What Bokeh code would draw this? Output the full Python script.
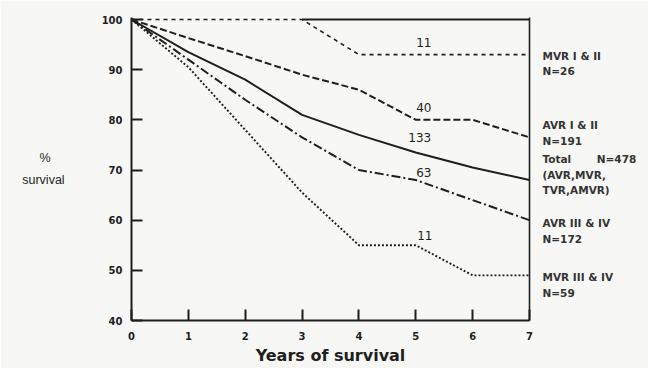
from bokeh.plotting import figure
from bokeh.models import Range1d, FixedTicker, LinearAxis, CustomJSTickFormatter
from bokeh.embed import file_html
from bokeh.resources import INLINE

# ---- data ----
years = [0, 1, 2, 3, 4, 5, 6, 7]
mvr_1_2 = [100, 100, 100, 100, 93, 93, 93, 93]
avr_1_2 = [100, 96.3, 92.7, 89, 86, 80, 80, 76.5]
total = [100, 93.5, 88, 81, 77, 73.5, 70.5, 68]
avr_3_4 = [100, 92, 84, 76.5, 70, 68, 64, 60]
mvr_3_4 = [100, 90.5, 78, 65.5, 55, 55, 49, 49]

at_risk_year = 5
at_risk = ["11", "40", "133", "63", "11"]

group_labels = [
    ["MVR I & II", "N=26"],
    ["AVR I & II", "N=191"],
    ["Total\u00a0\u00a0\u00a0\u00a0\u00a0\u00a0\u00a0N=478", "(AVR,MVR,", "TVR,AMVR)"],
    ["AVR III & IV", "N=172"],
    ["MVR III & IV", "N=59"],
]
y_ticks = [40, 50, 60, 70, 80, 90, 100]
x_ticks = [0, 1, 2, 3, 4, 5, 6, 7]

INK = "#1e1e1e"
BG = "#f7f7f5"
FONT = "Liberation Sans"
BOLD_FONT = "DejaVu Sans"

W, H = 648, 368
Y0, Y1 = 40, 100.4
TOP, BOTTOM = 17, 48
p = figure(width=W, height=H, x_range=Range1d(years[0], years[-1]), y_range=Range1d(Y0, Y1),
           output_backend="svg", toolbar_location=None,
           min_border_left=131, min_border_right=119,
           min_border_top=TOP, min_border_bottom=BOTTOM,
           background_fill_color=BG, border_fill_color=BG)
p.outline_line_color = None
p.xgrid.visible = False
p.ygrid.visible = False

series = [mvr_1_2, avr_1_2, total, avr_3_4, mvr_3_4]
styles = [
    dict(line_dash="4 4", line_width=1.6),
    dict(line_dash="7 3", line_width=2.0),
    dict(line_dash="solid", line_width=2.0),
    dict(line_dash="9 3 2 3", line_width=2.0),
    dict(line_dash="2 2", line_width=1.9),
]
for s, st in zip(series, styles):
    p.line(years, s, line_color=INK, **st)

# frame: top segment where MVR I&II leaves the 100 line
first_drop = next(i for i, v in enumerate(mvr_1_2) if v < 100) - 1
p.segment(x0=[years[first_drop]], y0=[100], x1=[years[-1]], y1=[100], line_color=INK, line_width=2)

# axes
p.xaxis.ticker = FixedTicker(ticks=x_ticks)
p.yaxis.ticker = FixedTicker(ticks=y_ticks)
for ax in (p.xaxis[0], p.yaxis[0]):
    ax.axis_line_color = INK
    ax.axis_line_width = 2
    ax.major_tick_line_color = INK
    ax.major_tick_line_width = 2
    ax.major_tick_in = 11
    ax.major_tick_out = 0
    ax.minor_tick_line_color = None
    ax.major_label_text_font = BOLD_FONT
    ax.major_label_text_font_style = "bold"
    ax.major_label_text_font_size = "10px"
    ax.major_label_text_color = INK
p.xaxis.major_label_standoff = 11
p.yaxis.major_label_standoff = 9
p.xaxis.axis_label = "Years of survival"
p.xaxis.axis_label_text_font = BOLD_FONT
p.xaxis.axis_label_text_font_style = "bold"
p.xaxis.axis_label_text_font_size = "16px"
p.xaxis.axis_label_text_color = INK
p.xaxis.axis_label_standoff = 3

p.yaxis.axis_label = "%\u00a0\u00a0\u00a0\u00a0\nsurvival"
p.yaxis.axis_label_orientation = "horizontal"
p.yaxis.axis_label_text_font = FONT
p.yaxis.axis_label_text_font_style = "normal"
p.yaxis.axis_label_text_font_size = "12.5px"
p.yaxis.axis_label_text_color = INK
p.yaxis.axis_label_text_line_height = 1.6
p.yaxis.axis_label_standoff = 34

# numbers at risk at year 5
idx5 = years.index(at_risk_year)
risk_dx = [8, 8, 4, 8, 9]
risk_dy = [-12, -12, -15, -8, -10]
for txt, s, dx, dy in zip(at_risk, series, risk_dx, risk_dy):
    p.text(x=[at_risk_year], y=[s[idx5]], text=[txt], x_offset=dx, y_offset=dy,
           text_align="center", text_baseline="middle",
           text_font={"value": BOLD_FONT}, text_font_size="12px", text_color=INK)

# group labels: tick labels of a right-hand axis (which also draws the frame's right edge)
frame_h = H - TOP - BOTTOM
units_per_px = (Y1 - Y0) / frame_h
first_line_dy = [1, -12, -21, 3, 2]   # px below the series' end value
line_gap = 15.5
pos, txts = [], []
for lines, s, dy in zip(group_labels, series, first_line_dy):
    for k, ln in enumerate(lines):
        pos.append(round(s[-1] - (dy + line_gap * k) * units_per_px, 4))
        txts.append(ln)
order = sorted(range(len(pos)), key=lambda i: pos[i])
pos_sorted = [pos[i] for i in order]
txt_sorted = [txts[i] for i in order]

right = LinearAxis(ticker=FixedTicker(ticks=pos_sorted),
                   formatter=CustomJSTickFormatter(args=dict(pos=pos_sorted, labels=txt_sorted),
                                                   code="""
let best = 0, d = Infinity;
for (let i = 0; i < pos.length; i++) { const e = Math.abs(pos[i] - tick); if (e < d) { d = e; best = i; } }
return labels[best];
"""),
                   axis_line_color=INK, axis_line_width=1.6,
                   major_tick_line_color=None, minor_tick_line_color=None,
                   major_tick_in=0, major_tick_out=0, major_label_standoff=13,
                   major_label_text_font=BOLD_FONT, major_label_text_font_style="bold",
                   major_label_text_font_size="10.5px", major_label_text_color="#333333")
p.add_layout(right, "right")

open("out.html", "w").write(file_html(p, INLINE))
